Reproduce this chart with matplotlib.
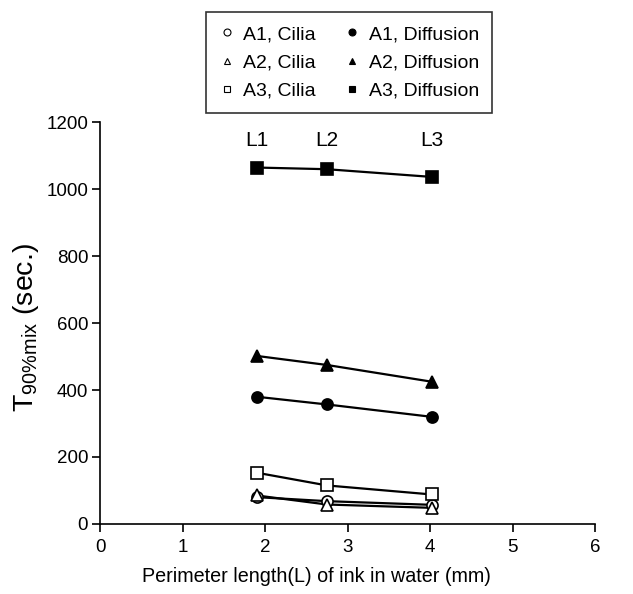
import matplotlib
matplotlib.use("Agg")
import matplotlib.pyplot as plt

plt.rcParams['font.family'] = ['Liberation Sans', 'DejaVu Sans']

# perimeter lengths L1, L2, L3
x = [1.9, 2.75, 4.02]
level_labels = ['L1', 'L2', 'L3']

a1_cilia = [80, 68, 57]
a2_cilia = [85, 58, 48]
a3_cilia = [153, 115, 88]
a1_diff = [380, 357, 320]
a2_diff = [502, 475, 425]
a3_diff = [1065, 1060, 1037]

fig = plt.figure(figsize=(6.33, 5.94), dpi=100)
ax = fig.add_axes([0.158, 0.118, 0.782, 0.676])

series = [
    (a1_cilia, 'o', 'white', 'A1, Cilia'),
    (a2_cilia, '^', 'white', 'A2, Cilia'),
    (a3_cilia, 's', 'white', 'A3, Cilia'),
    (a1_diff, 'o', 'black', 'A1, Diffusion'),
    (a2_diff, '^', 'black', 'A2, Diffusion'),
    (a3_diff, 's', 'black', 'A3, Diffusion'),
]
handles = []
for y, m, fc, lab in series:
    ax.plot(x, y, color='black', lw=1.6, zorder=2)
    ax.plot(x, y, ls='none', marker=m, ms=8, mfc=fc, mec='black', mew=1.2, zorder=3)
    h, = ax.plot([], [], ls='none', marker=m, ms=5, mfc=fc, mec='black', mew=0.8, label=lab)
    handles.append(h)

for xi, t in zip(x, level_labels):
    ax.text(xi, 1145, t, ha='center', va='center', fontsize=15)

ax.set_xlim(0, 6)
ax.set_ylim(0, 1200)
ax.set_xticks(range(0, 7))
ax.set_yticks(range(0, 1201, 200))
ax.spines['top'].set_visible(False)
ax.spines['right'].set_visible(False)
ax.spines['left'].set_linewidth(1.2)
ax.spines['bottom'].set_linewidth(1.2)
ax.tick_params(direction='out', length=6, width=1.2, labelsize=13.5)
ax.tick_params(axis='x', pad=5)
ax.tick_params(axis='y', pad=2.5)

ax.set_xlabel('Perimeter length(L) of ink in water (mm)', fontsize=14.2)
ax.xaxis.set_label_coords(0.438, -0.108)
ax.set_ylabel(r'T$_{\mathregular{90\%mix}}$ (sec.)', fontsize=20.5)
ax.yaxis.set_label_coords(-0.12, 0.49)

leg = fig.legend(handles=handles, ncol=2, loc='upper center',
                 bbox_to_anchor=(0.552, 0.98), fontsize=14, frameon=True,
                 fancybox=False, edgecolor='black', handlelength=0.7,
                 handletextpad=0.5, columnspacing=1.5, labelspacing=0.55,
                 borderpad=0.7, borderaxespad=0)
leg.get_frame().set_linewidth(1.2)

fig.savefig('out.png', dpi=100)
